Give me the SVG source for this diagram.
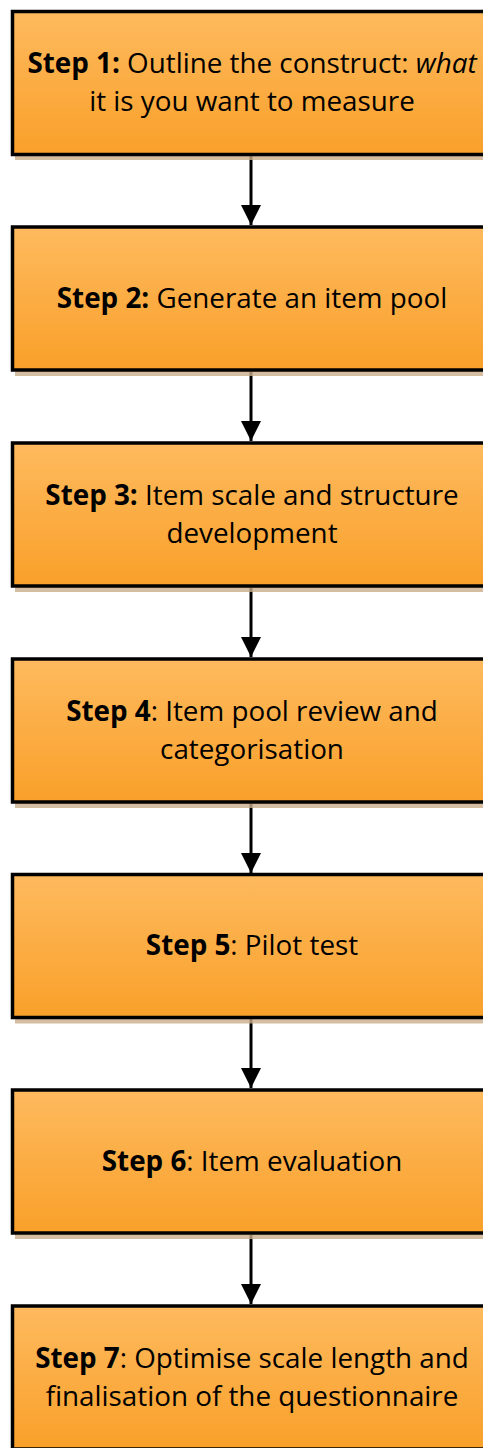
<svg xmlns="http://www.w3.org/2000/svg" width="483" height="1448" viewBox="0 0 483 1448">
<defs>
<linearGradient id="g" x1="0" y1="0" x2="0" y2="1">
<stop offset="0" stop-color="#FEBA5E"/>
<stop offset="1" stop-color="#F9A02A"/>
</linearGradient>
<marker id="ah" markerUnits="userSpaceOnUse" markerWidth="22" markerHeight="20" refX="20" refY="10" orient="auto" viewBox="0 0 20 20">
<path d="M0,0 L20,10 L0,20 Z" fill="#000"/>
</marker>
</defs>
<style>
.box{fill:url(#g);stroke:#000;stroke-width:3.5}
.sh{fill:#C9AC88;opacity:0.8}
.t{font-family:"Open Sans","DejaVu Sans",sans-serif;font-size:27.8px;fill:#000;text-anchor:middle}
.b{font-weight:bold}
.i{font-style:italic}
.c{stroke:#000;stroke-width:3;fill:none}
</style>
<g id="connectors">
<line class="c" x1="251" y1="156" x2="251" y2="225" marker-end="url(#ah)"/>
<line class="c" x1="251" y1="372" x2="251" y2="441" marker-end="url(#ah)"/>
<line class="c" x1="251" y1="588" x2="251" y2="657" marker-end="url(#ah)"/>
<line class="c" x1="251" y1="804" x2="251" y2="873" marker-end="url(#ah)"/>
<line class="c" x1="251" y1="1019" x2="251" y2="1088" marker-end="url(#ah)"/>
<line class="c" x1="251" y1="1235" x2="251" y2="1304" marker-end="url(#ah)"/>
</g>
<g id="step1">
<rect class="sh" x="15" y="14" width="479" height="146"/>
<rect class="box" x="12.5" y="11.5" width="479" height="143"/>
<text class="t" x="252" y="73"><tspan class="b">Step 1:</tspan> Outline the construct: <tspan class="i">what</tspan></text>
<text class="t" x="252" y="111">it is you want to measure</text>
</g>
<g id="step2">
<rect class="sh" x="15" y="230" width="479" height="146"/>
<rect class="box" x="12.5" y="227" width="479" height="143"/>
<text class="t" x="252" y="308"><tspan class="b">Step 2:</tspan> Generate an item pool</text>
</g>
<g id="step3">
<rect class="sh" x="15" y="446" width="479" height="146"/>
<rect class="box" x="12.5" y="443" width="479" height="143"/>
<text class="t" x="252" y="505"><tspan class="b">Step 3:</tspan> Item scale and structure</text>
<text class="t" x="252" y="543">development</text>
</g>
<g id="step4">
<rect class="sh" x="15" y="662" width="479" height="146"/>
<rect class="box" x="12.5" y="659" width="479" height="143"/>
<text class="t" x="252" y="721"><tspan class="b">Step 4</tspan>: Item pool review and</text>
<text class="t" x="252" y="759">categorisation</text>
</g>
<g id="step5">
<rect class="sh" x="15" y="877.5" width="479" height="146"/>
<rect class="box" x="12.5" y="874.5" width="479" height="143"/>
<text class="t" x="252" y="955"><tspan class="b">Step 5</tspan>: Pilot test</text>
</g>
<g id="step6">
<rect class="sh" x="15" y="1093" width="479" height="146"/>
<rect class="box" x="12.5" y="1090" width="479" height="143"/>
<text class="t" x="252" y="1171"><tspan class="b">Step 6</tspan>: Item evaluation</text>
</g>
<g id="step7">
<rect class="sh" x="15" y="1309" width="479" height="146"/>
<rect class="box" x="12.5" y="1306" width="479" height="143"/>
<text class="t" x="252" y="1368"><tspan class="b">Step 7</tspan>: Optimise scale length and</text>
<text class="t" x="252" y="1406">finalisation of the questionnaire</text>
</g>
</svg>
